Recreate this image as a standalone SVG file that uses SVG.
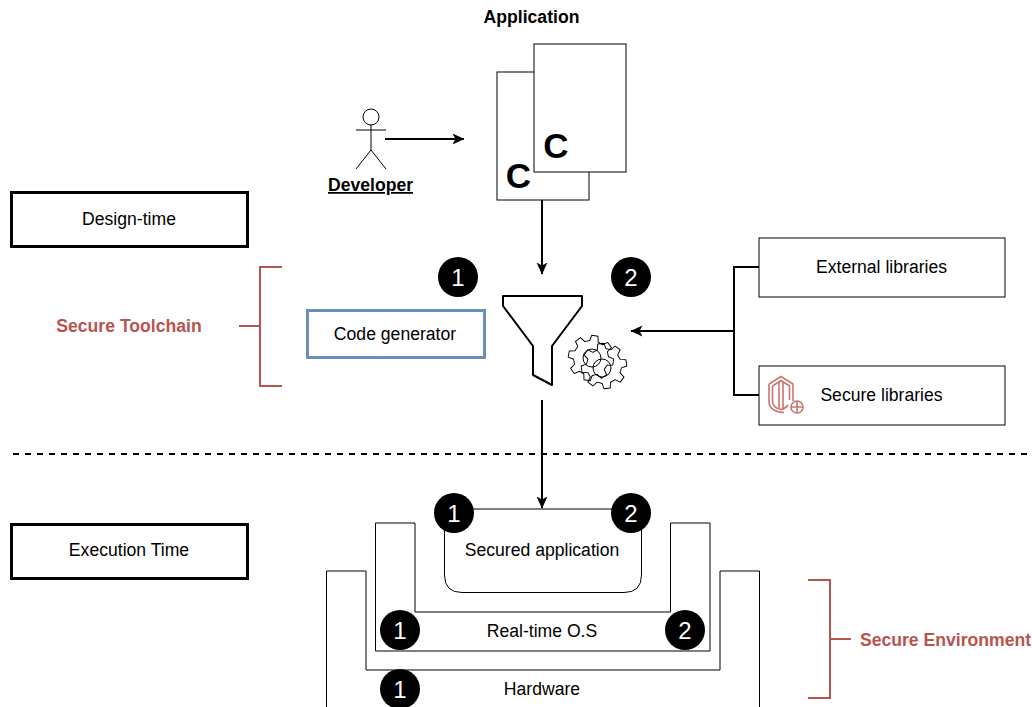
<svg xmlns="http://www.w3.org/2000/svg" width="1032" height="707" viewBox="0 0 1032 707">
<defs>
<marker id="a" markerWidth="13" markerHeight="13" refX="11.500" refY="6" orient="auto" markerUnits="userSpaceOnUse"><path d="M0 0.500L12 6L0 11.500L3 6Z" fill="#000"/></marker>
<path id="gear" d="M17.900 -4.500L23.800 -3.300L23.800 3.300L17.900 4.500L15.800 9.500L19.200 14.500L14.500 19.200L9.500 15.800L4.500 17.900L3.300 23.800L-3.300 23.800L-4.500 17.900L-9.500 15.800L-14.500 19.200L-19.200 14.500L-15.800 9.500L-17.900 4.500L-23.800 3.300L-23.800 -3.300L-17.900 -4.500L-15.800 -9.500L-19.200 -14.500L-14.500 -19.200L-9.500 -15.800L-4.500 -17.900L-3.300 -23.800L3.300 -23.800L4.500 -17.900L9.500 -15.800L14.500 -19.200L19.200 -14.500L15.800 -9.500Z" fill="none" stroke="#000" stroke-width="1" stroke-linejoin="round"/>
</defs>
<style>
text{font-family:"Liberation Sans",Arial,sans-serif;font-size:17.6px;fill:#000;text-anchor:middle}
.b{font-weight:bold}
.r{fill:#b85450;font-weight:bold}
.box{fill:#fff;stroke:#000;stroke-width:1}
.thick{fill:#fff;stroke:#000;stroke-width:3}
.con{fill:none;stroke:#000;stroke-width:2}
.brace{fill:none;stroke:#b85450;stroke-width:2}
.num{fill:#fff;font-size:24px}
.dot{fill:#000}
.ic{fill:none;stroke:#cb7470;stroke-width:1.6}
</style>
<g id="app-label"><text class="b" x="531.500" y="23">Application</text></g>
<g id="developer">
<circle cx="371" cy="117" r="8" fill="#fff" stroke="#000"/>
<path d="M371 125V150M356 130H386M371 150L356 169M371 150L386 169" fill="none" stroke="#000"/>
<text class="b" x="370.500" y="191" text-decoration="underline">Developer</text>
</g>
<g id="doc-back"><rect class="box" x="497" y="72" width="92" height="128"/><text class="b" x="518.500" y="187.500" style="font-size:35px">C</text></g>
<g id="doc-front"><rect class="box" x="534" y="44" width="92" height="128"/><text class="b" x="556" y="158" style="font-size:35px">C</text></g>
<g id="design-time"><rect class="thick" x="11.500" y="192.500" width="236" height="54"/><text x="129" y="225">Design-time</text></g>
<g id="execution-time"><rect class="thick" x="11.500" y="524.500" width="236" height="54"/><text x="129" y="556">Execution Time</text></g>
<g id="secure-toolchain"><text class="r" x="129" y="332">Secure Toolchain</text><path class="brace" d="M282 267H260V386H282M260 326H239"/></g>
<g id="code-generator"><rect x="307.500" y="310.500" width="177" height="47" fill="#fff" stroke="#6c8ebf" stroke-width="3"/><text x="395" y="340">Code generator</text></g>
<g id="badge-t1"><circle class="dot" cx="458" cy="277" r="20"/><text class="num" x="458" y="286">1</text></g>
<g id="badge-t2"><circle class="dot" cx="631" cy="277" r="20"/><text class="num" x="631" y="286">2</text></g>
<g id="funnel"><path d="M503 296H582V306L552 346V385L533 375V346L503 306Z" fill="#fff" stroke="#000" stroke-width="2" stroke-linejoin="round"/></g>
<g id="gears"><use href="#gear" transform="translate(591 358) rotate(10) scale(.95)"/><use href="#gear" transform="translate(604 366) rotate(-8) scale(.95)"/><circle cx="592" cy="358" r="9" fill="none" stroke="#000"/><circle cx="602" cy="368" r="9" fill="none" stroke="#000"/></g>
<g id="external-libraries"><rect class="box" x="759" y="238" width="246" height="59"/><text x="881.500" y="273">External libraries</text></g>
<g id="secure-libraries"><rect class="box" x="759" y="366" width="246" height="59"/><text x="881.500" y="401">Secure libraries</text>
<path class="ic" d="M769 384L781 376.500L793 384V401M769 384V401C769 409 775 412 784 412.500"/><path class="ic" d="M772.500 386L781 380.500L789.500 386V400M772.500 386V401C772.500 406 776 408.500 781 409.500C784 409 786 408 788 405"/><path class="ic" d="M779 382V408M783 382V408"/><circle class="ic" cx="797" cy="407" r="6"/><path class="ic" d="M797 401V413M791 407H803"/></g>
<g id="divider"><path d="M13 454H1032" fill="none" stroke="#000" stroke-width="2" stroke-dasharray="6 6"/></g>
<g id="hardware"><path class="box" d="M326.500 571H366V670H720V571H759.500V708H326.500Z"/><text x="542" y="695">Hardware</text></g>
<g id="rtos"><path class="box" d="M375.500 523H415V612H670.500V523H710V651H375.500Z"/><text x="542" y="637">Real-time O.S</text></g>
<g id="secured-application"><path class="box" d="M444.500 509H641.500V575Q641.500 592.500 624 592.500H462Q444.500 592.500 444.500 575Z"/><text x="542" y="556">Secured application</text></g>
<g id="badge-a1"><circle class="dot" cx="454" cy="513" r="20"/><text class="num" x="454" y="522">1</text></g>
<g id="badge-a2"><circle class="dot" cx="631" cy="513" r="20"/><text class="num" x="631" y="522">2</text></g>
<g id="badge-r1"><circle class="dot" cx="400" cy="630" r="20"/><text class="num" x="400" y="639">1</text></g>
<g id="badge-r2"><circle class="dot" cx="685" cy="630" r="20"/><text class="num" x="685" y="639">2</text></g>
<g id="badge-h1"><circle class="dot" cx="400" cy="689" r="20"/><text class="num" x="400" y="698">1</text></g>
<g id="secure-environment"><path class="brace" d="M808 580H830V698H808M830 639H851"/><text class="r" x="945.500" y="646">Secure Environment</text></g>
<g id="connectors">
<path class="con" d="M385 139H464" marker-end="url(#a)"/>
<path class="con" d="M542 200V274" marker-end="url(#a)"/>
<path class="con" d="M759 267H734V395H759M734 331H631" marker-end="url(#a)"/>
<path class="con" d="M542 400V508" marker-end="url(#a)"/>
</g>
</svg>
